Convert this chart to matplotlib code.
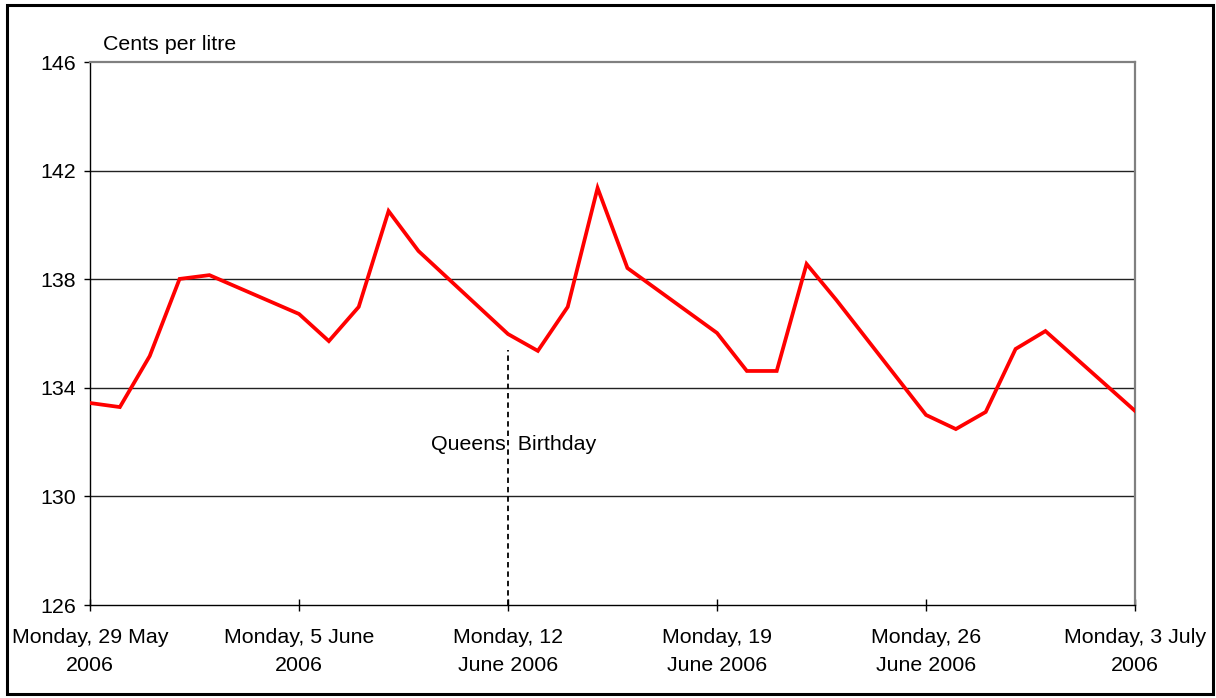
import matplotlib
matplotlib.use("Agg")
import matplotlib.pyplot as plt
from matplotlib.patches import Rectangle

plt.rcParams['font.family'] = ['Liberation Sans', 'DejaVu Sans']

# Days since Monday 29 May 2006 (weekday observations)
days = [0, 1, 2, 3, 4,
        7, 8, 9, 10, 11,
        14, 15, 16, 17, 18,
        21, 22, 23, 24, 25,
        28, 29, 30, 31, 32,
        35]
prices = [133.44, 133.29, 135.17, 138.01, 138.15,
          136.72, 135.72, 136.98, 140.51, 139.04,
          135.98, 135.36, 136.98, 141.36, 138.41,
          136.02, 134.62, 134.62, 138.56, 137.23,
          133.00, 132.48, 133.11, 135.43, 136.09,
          133.15]

x_ticks = [0, 7, 14, 21, 28, 35]
x_labels = ["Monday, 29 May\n2006", "Monday, 5 June\n2006", "Monday, 12\nJune 2006",
            "Monday, 19\nJune 2006", "Monday, 26\nJune 2006", "Monday, 3 July\n2006"]
y_ticks = [126, 130, 134, 138, 142, 146]

holiday_day = 14
holiday_top = 135.4
holiday_label = "Queens  Birthday"
holiday_label_x = 14.2
holiday_label_y = 131.9

FS = 15.4
W, H = 1216, 698
fig = plt.figure(figsize=(W / 100, H / 100), dpi=100)
fig.patch.set_facecolor('white')
ax = fig.add_axes([90 / W, 1 - 605 / H, (1135 - 90) / W, (605 - 62) / H])

# outer border
fig.patches.append(Rectangle((7 / W, 1 - 694 / H), (1213 - 7) / W, (694 - 5) / H,
                             transform=fig.transFigure, fill=False,
                             edgecolor='black', linewidth=2.2, zorder=10))

for y in y_ticks[1:-1]:
    ax.axhline(y, color='#222222', linewidth=1.0, zorder=1)

ax.plot(days, prices, color='#ff0000', linewidth=2.7, zorder=3, solid_joinstyle='miter')
ax.plot([holiday_day, holiday_day], [126, holiday_top], color='black',
        linestyle=(0, (3, 2.2)), linewidth=1.3, zorder=2)
ax.text(holiday_label_x, holiday_label_y, holiday_label, ha='center', va='center',
        fontsize=FS, color='black', zorder=4)

ax.set_xlim(0, 35)
ax.set_ylim(126, 146)
ax.set_xticks(x_ticks)
ax.set_xticklabels(x_labels, fontsize=FS, linespacing=1.6)
ax.set_yticks(y_ticks)
ax.set_yticklabels([str(v) for v in y_ticks], fontsize=FS)
ax.tick_params(axis='x', direction='inout', length=9, width=1, pad=12)
ax.tick_params(axis='y', direction='out', length=4, width=1, pad=6)

for s in ['left', 'bottom']:
    ax.spines[s].set_color('black')
    ax.spines[s].set_linewidth(1.0)
for s in ['top', 'right']:
    ax.spines[s].set_color('#808080')
    ax.spines[s].set_linewidth(1.6)

fig.text(103 / W, 1 - 44 / H, "Cents per litre", ha='left', va='center', fontsize=FS)

fig.savefig("out.png", dpi=100)
